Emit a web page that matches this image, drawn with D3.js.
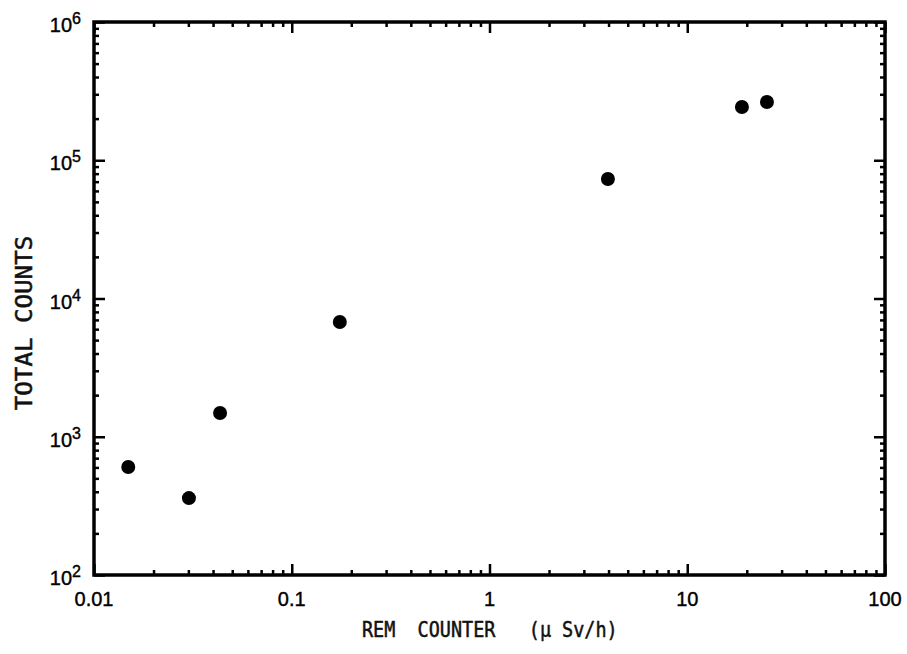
<!DOCTYPE html>
<html>
<head>
<meta charset="utf-8">
<script src="https://cdn.jsdelivr.net/npm/d3@7"></script>
<style>
    body { margin: 0; background: #fff; }
    .ticklabel { font-family: 'Liberation Sans', Arial, sans-serif; font-size: 20px; fill: #000; stroke: #000; stroke-width: 0.4; }
    .axistitle { font-family: 'DejaVu Sans Mono', 'Liberation Mono', monospace; fill: #111; stroke: #111; stroke-width: 0.5; white-space: pre; }
</style>
</head>
<body>
<svg class="chart" width="907" height="654"></svg>
<script>
// values
var remCounter = [0.0149, 0.0302, 0.0434, 0.175, 3.97, 18.9, 25.3];
var totalCounts = [604, 360, 1486, 6760, 73100, 242700, 263900];
var xMajorTicks = [0.01, 0.1, 1, 10, 100];
var xTickLabels = ['0.01', '0.1', '1', '10', '100'];
var yMajorTicks = [1e2, 1e3, 1e4, 1e5, 1e6];
var yTickExponents = ['2', '3', '4', '5', '6'];

function draw_scatter_remCounts(areaID) {
    var margin = { top: 22, right: 22, bottom: 79, left: 94 },
        width = 907 - margin.left - margin.right,
        height = 654 - margin.top - margin.bottom;
    var dotRadius = 7;

    var x = d3.scaleLog().domain([0.01, 100]).range([0, width]);
    var y = d3.scaleLog().domain([100, 1e6]).range([height, 0]);

    // minor ticks 2..9 of each decade
    var xMinor = [], yMinor = [];
    for (var e = -2; e < 2; e++) {
        for (var k = 2; k < 10; k++) xMinor.push(k * Math.pow(10, e));
    }
    for (var e = 2; e < 6; e++) {
        for (var k = 2; k < 10; k++) yMinor.push(k * Math.pow(10, e));
    }

    var chart = d3.select('.' + areaID)
        .append('g')
        .attr('transform', 'translate(' + margin.left + ',' + margin.top + ')');

    function addTicks(axisFn, scale, values, size, transform) {
        var g = chart.append('g')
            .attr('transform', transform)
            .call(axisFn(scale).tickValues(values).tickSize(-size).tickFormat(''));
        g.select('.domain').remove();
        g.selectAll('line').attr('stroke', '#000').attr('stroke-width', 2.5);
        return g;
    }

    // ticks on all four sides, pointing inward
    addTicks(d3.axisBottom, x, xMinor, 5, 'translate(0,' + height + ')');
    addTicks(d3.axisBottom, x, xMajorTicks, 11, 'translate(0,' + height + ')');
    addTicks(d3.axisTop, x, xMinor, 5, 'translate(0,0)');
    addTicks(d3.axisTop, x, xMajorTicks, 11, 'translate(0,0)');
    addTicks(d3.axisLeft, y, yMinor, 5, 'translate(0,0)');
    addTicks(d3.axisLeft, y, yMajorTicks, 11, 'translate(0,0)');
    addTicks(d3.axisRight, y, yMinor, 5, 'translate(' + width + ',0)');
    addTicks(d3.axisRight, y, yMajorTicks, 11, 'translate(' + width + ',0)');

    // frame
    chart.append('rect')
        .attr('x', 0)
        .attr('y', 0)
        .attr('width', width)
        .attr('height', height)
        .attr('fill', 'none')
        .attr('stroke', '#000')
        .attr('stroke-width', 3.5);

    // x tick labels
    chart.append('g')
        .selectAll('text')
        .data(xMajorTicks)
        .enter()
        .append('text')
        .attr('class', 'ticklabel')
        .attr('x', d => x(d))
        .attr('y', height + 31)
        .attr('text-anchor', 'middle')
        .text((d, i) => xTickLabels[i]);

    // y tick labels as 10 with raised exponent
    var yLabels = chart.append('g')
        .selectAll('text')
        .data(yMajorTicks)
        .enter()
        .append('text')
        .attr('class', 'ticklabel')
        .attr('x', -13)
        .attr('y', d => y(d) + 10)
        .attr('text-anchor', 'end');
    yLabels.append('tspan').text('10');
    yLabels.append('tspan')
        .attr('dy', -8)
        .style('font-size', '16px')
        .text((d, i) => yTickExponents[i]);

    // axis titles
    chart.append('text')
        .attr('class', 'axistitle')
        .attr('transform', 'translate(268,' + (height + 62) + ') scale(0.88,1)')
        .attr('text-anchor', 'start')
        .style('font-size', '21px')
        .text('REM  COUNTER   (μ Sv/h)');

    chart.append('text')
        .attr('class', 'axistitle')
        .attr('transform', 'translate(-62,' + (323 - margin.top) + ') rotate(-90) scale(1.05,1)')
        .attr('text-anchor', 'middle')
        .style('font-size', '23px')
        .text('TOTAL COUNTS');

    // points
    chart.append('g')
        .selectAll('circle')
        .data(remCounter)
        .enter()
        .append('circle')
        .attr('cx', d => x(d))
        .attr('cy', (d, i) => y(totalCounts[i]))
        .attr('r', dotRadius)
        .attr('fill', '#000');
}

draw_scatter_remCounts('chart');
</script>
</body>
</html>
